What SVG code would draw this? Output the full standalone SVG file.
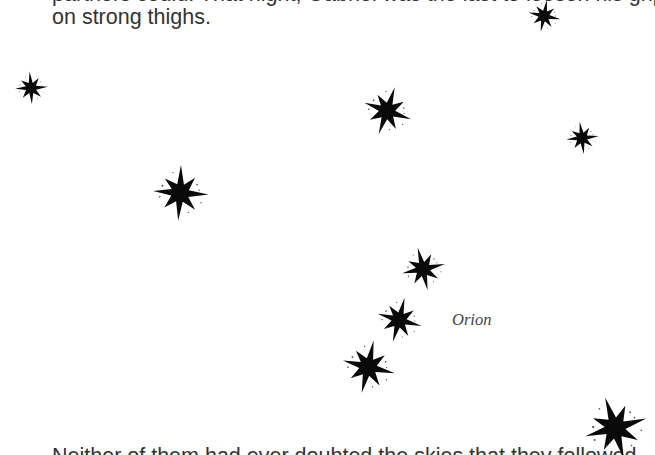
<svg xmlns="http://www.w3.org/2000/svg" xmlns:xlink="http://www.w3.org/1999/xlink" width="655" height="455" viewBox="0 0 655 455">
<style>
.prose{font-family:"Liberation Sans",Arial,sans-serif;font-size:21.5px;fill:#333}
.label{font-family:"Liberation Serif","Times New Roman",serif;font-style:italic;font-size:16.5px;fill:#444}
.ink{fill:#0a0a0a}
.speck{fill:#555}
</style>
<defs>
<g id="star">
<polygon class="ink" points="0,-100 13,-30 52,-56 31,-11 102,2 30,13 56,58 11,31 -3,98 -13,30 -54,54 -31,10 -96,-4 -30,-13 -56,-50 -11,-31"/>
<circle class="ink" cx="0" cy="0" r="30"/>
<circle class="speck" cx="-64" cy="-24" r="3.5"/>
<circle class="speck" cx="-72" cy="16" r="3"/>
<circle class="speck" cx="60" cy="-32" r="3"/>
<circle class="speck" cx="68" cy="-12" r="2.5"/>
<circle class="speck" cx="-42" cy="44" r="2.5"/>
<circle class="speck" cx="32" cy="68" r="2.5"/>
<circle class="speck" cx="-28" cy="-72" r="2.5"/>
<circle class="speck" cx="76" cy="32" r="2.5"/>
</g>
</defs>
<g id="text-top">
<text class="prose" x="52" y="1">partners could. That night, Gabriel was the last to loosen his grip</text>
<text class="prose" x="52" y="23.5">on strong thighs.</text>
</g>
<g id="text-bottom">
<text class="prose" x="52" y="463">Neither of them had ever doubted the skies that they followed</text>
</g>
<g id="stars">
<g id="star1"><use xlink:href="#star" transform="translate(544,16) rotate(10) scale(0.165)"/></g>
<g id="star2"><use xlink:href="#star" transform="translate(31,88) rotate(-5) scale(0.165)"/></g>
<g id="star3"><use xlink:href="#star" transform="translate(387,111) rotate(18) scale(0.25)"/></g>
<g id="star4"><use xlink:href="#star" transform="translate(582,138) rotate(-8) scale(0.165)"/></g>
<g id="star5"><use xlink:href="#star" transform="translate(180,193) rotate(2) scale(0.28)"/></g>
<g id="star6"><use xlink:href="#star" transform="translate(423,269) rotate(-14) scale(0.22)"/></g>
<g id="star7"><use xlink:href="#star" transform="translate(399,320) rotate(14) scale(0.23)"/></g>
<g id="star8"><use xlink:href="#star" transform="translate(368,367) rotate(12) scale(0.27)"/></g>
<g id="star9"><use xlink:href="#star" transform="translate(615,428) rotate(-18) scale(0.32)"/></g>
</g>
<g id="connectors"/>
<g id="orion-label">
<text class="label" x="452" y="325">Orion</text>
</g>
</svg>
